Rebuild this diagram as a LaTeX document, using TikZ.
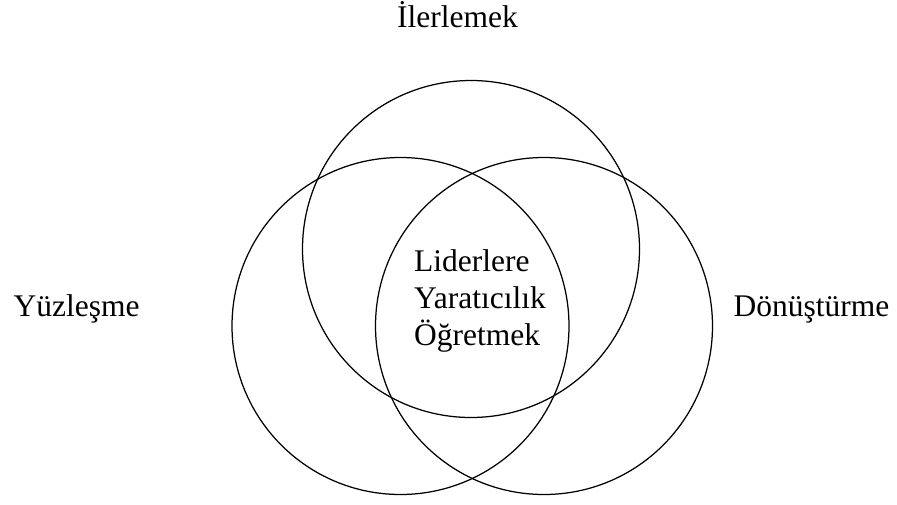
\documentclass[tikz,border=0pt]{standalone}
\usepackage{fontspec}
\setmainfont{Liberation Serif}
\begin{document}
\begin{tikzpicture}[x=1pt,y=-1pt,
  ring/.style={draw=black,line width=1.25pt,circle,minimum size=337pt,inner sep=0pt},
  label/.style={inner sep=0pt,font=\fontsize{31.5}{37}\selectfont}]
\useasboundingbox (0,0) rectangle (897,504);
% the three overlapping circles
\node[ring] (top)   at (471,249) {};
\node[ring] (left)  at (400.5,326) {};
\node[ring] (right) at (544,326) {};
% outer labels
\node[label,anchor=base west] (ilerlemek) at (397,27.5) {İlerlemek};
\node[label,anchor=base west] (yuzlesme) at (13.5,316) {Yüzleşme};
\node[label,anchor=base west] (donusturme) at (733.5,316) {Dönüştürme};
% central text
\node[label,anchor=west,align=left] (center) at (414,301) {Liderlere\\Yaratıcılık\\Öğretmek};
\end{tikzpicture}
\end{document}
